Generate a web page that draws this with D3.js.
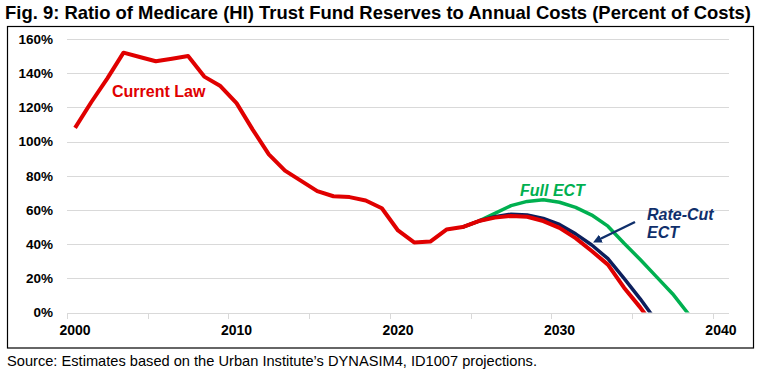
<!DOCTYPE html>
<html>
<head>
<meta charset="utf-8">
<script src="https://cdn.jsdelivr.net/npm/d3@7"></script>
<style>
  body { margin: 0; background: white; }
  svg { display: block; font-family: "Liberation Sans", Arial, sans-serif; }
</style>
</head>
<body>
<svg id="chart"></svg>
<script>
//years and series (percent of annual costs)
const years = d3.range(2000, 2039);
const currentLaw = [108, 123, 137, 152, 149.5, 147, 148.5, 150, 138, 132.5,
    122.5, 107, 92.5, 83, 77, 71, 68, 67.5, 65.5, 61,
    48, 41, 41.5, 48.5, 50, 53.5, 55.5, 56.5, 56, 53.5,
    49.5, 43.5, 36, 28, 14.5, 3, -10];
//rate-cut ECT and full ECT start where they split off from current law
const rateCutYears = d3.range(2024, 2038);
const rateCut = [50, 53.5, 56, 57.5, 57, 55, 51.5, 46, 39.5, 31.5, 20, 8, -5, -18];
const fullYears = d3.range(2024, 2040);
const fullECT = [50, 53.5, 58, 62.5, 65, 66, 64.5, 61.5, 57, 50.5, 40.5, 31, 21, 11, -1, -12];
const yTicks = [0, 20, 40, 60, 80, 100, 120, 140, 160];
const xLabels = [2000, 2010, 2020, 2030, 2040];

const width = 766, height = 377;
const plotLeft = 67, plotRight = 729, plotTop = 39, plotBottom = 312.5;

const svg = d3.select("#chart").attr("width", width).attr("height", height);

//title
svg.append("text")
    .attr("x", 5).attr("y", 18.5)
    .attr("textLength", 746).attr("lengthAdjust", "spacingAndGlyphs")
    .style("font-family", "'Liberation Sans Narrow', 'Arial Narrow', 'Liberation Sans', Arial")
    .style("font-size", "18.5px").style("font-weight", "bold")
    .text("Fig. 9: Ratio of Medicare (HI) Trust Fund Reserves to Annual Costs (Percent of Costs)");

//frame round the chart
svg.append("rect")
    .attr("x", 7.5).attr("y", 26.5).attr("width", 746).attr("height", 321.5)
    .attr("fill", "none").attr("stroke", "black").attr("stroke-width", 1.2);

//x is a category axis: one slot per year, 2000 in the first one
const x = d3.scaleLinear().domain([1999.5, 2040.5]).range([plotLeft, plotRight]);
const y = d3.scaleLinear().domain([0, 160]).range([plotBottom, plotTop]);

//grid
svg.append("g")
    .selectAll("line")
    .data(yTicks.filter(d => d > 0))
    .join("line")
    .attr("x1", plotLeft).attr("x2", plotRight)
    .attr("y1", d => Math.round(y(d)) + 0.5).attr("y2", d => Math.round(y(d)) + 0.5)
    .attr("stroke", "#d9d9d9").attr("stroke-width", 1);

//x axis line and ticks every 5 categories
svg.append("line")
    .attr("x1", plotLeft).attr("x2", plotRight)
    .attr("y1", Math.round(plotBottom) + 0.5).attr("y2", Math.round(plotBottom) + 0.5)
    .attr("stroke", "#d9d9d9");
svg.append("g")
    .selectAll("line")
    .data(d3.range(1999.5, 2041, 5))
    .join("line")
    .attr("x1", d => Math.round(x(d)) + 0.5).attr("x2", d => Math.round(x(d)) + 0.5)
    .attr("y1", Math.round(plotBottom)).attr("y2", Math.round(plotBottom) + 6)
    .attr("stroke", "#d9d9d9");

//y labels
svg.append("g")
    .selectAll("text")
    .data(yTicks)
    .join("text")
    .attr("x", 53).attr("y", d => y(d))
    .attr("dy", "0.36em")
    .attr("text-anchor", "end")
    .style("font-size", "13.5px").style("font-weight", "bold")
    .text(d => d + "%");

//x labels
svg.append("g")
    .selectAll("text")
    .data(xLabels)
    .join("text")
    .attr("x", d => x(d)).attr("y", 335)
    .attr("text-anchor", "middle")
    .style("font-size", "14px").style("font-weight", "bold")
    .text(d => d);

//clip lines at the 0% axis
svg.append("clipPath").attr("id", "plot")
    .append("rect")
    .attr("x", plotLeft).attr("y", 0).attr("width", plotRight - plotLeft).attr("height", plotBottom);

const line = d3.line()
    .x(d => x(d[0]))
    .y(d => y(d[1]));

const plot = svg.append("g").attr("clip-path", "url(#plot)");

plot.append("path")
    .datum(fullYears.map((yr, i) => [yr, fullECT[i]]))
    .attr("d", line)
    .attr("fill", "none").attr("stroke", "#00b050").attr("stroke-width", 3.5)
    .attr("stroke-linejoin", "round");

plot.append("path")
    .datum(rateCutYears.map((yr, i) => [yr, rateCut[i]]))
    .attr("d", line)
    .attr("fill", "none").attr("stroke", "#0c1f5c").attr("stroke-width", 3.5)
    .attr("stroke-linejoin", "round");

plot.append("path")
    .datum(currentLaw.map((v, i) => [years[i], v]))
    .attr("d", line)
    .attr("fill", "none").attr("stroke", "#e00000").attr("stroke-width", 4)
    .attr("stroke-linejoin", "round");

//series labels
svg.append("text")
    .attr("x", 112).attr("y", 97)
    .style("font-size", "16px").style("font-weight", "bold")
    .style("fill", "#e00000")
    .text("Current Law");

svg.append("text")
    .attr("x", 520).attr("y", 196)
    .style("font-size", "16px").style("font-weight", "bold").style("font-style", "italic")
    .style("fill", "#00b050")
    .text("Full ECT");

const rc = svg.append("text")
    .attr("x", 647).attr("y", 220)
    .style("font-size", "16px").style("font-weight", "bold").style("font-style", "italic")
    .style("fill", "#0f2f6b");
rc.append("tspan").attr("x", 647).text("Rate-Cut");
rc.append("tspan").attr("x", 647).attr("dy", 18).text("ECT");

//arrow pointing at the rate-cut line
svg.append("defs").append("marker")
    .attr("id", "head")
    .attr("viewBox", "0 0 10 10")
    .attr("refX", 5).attr("refY", 5)
    .attr("markerWidth", 3.5).attr("markerHeight", 3.5)
    .attr("orient", "auto")
    .append("path")
    .attr("d", "M0,0 L10,5 L0,10 z")
    .attr("fill", "#0f2f6b");

svg.append("line")
    .attr("x1", 635).attr("y1", 222)
    .attr("x2", 597).attr("y2", 240.5)
    .attr("stroke", "#0f2f6b").attr("stroke-width", 2.5)
    .attr("marker-end", "url(#head)");

//source note
svg.append("text")
    .attr("x", 7).attr("y", 366)
    .attr("textLength", 530).attr("lengthAdjust", "spacingAndGlyphs")
    .style("font-size", "14.5px")
    .text("Source: Estimates based on the Urban Institute’s DYNASIM4, ID1007 projections.");
</script>
</body>
</html>
